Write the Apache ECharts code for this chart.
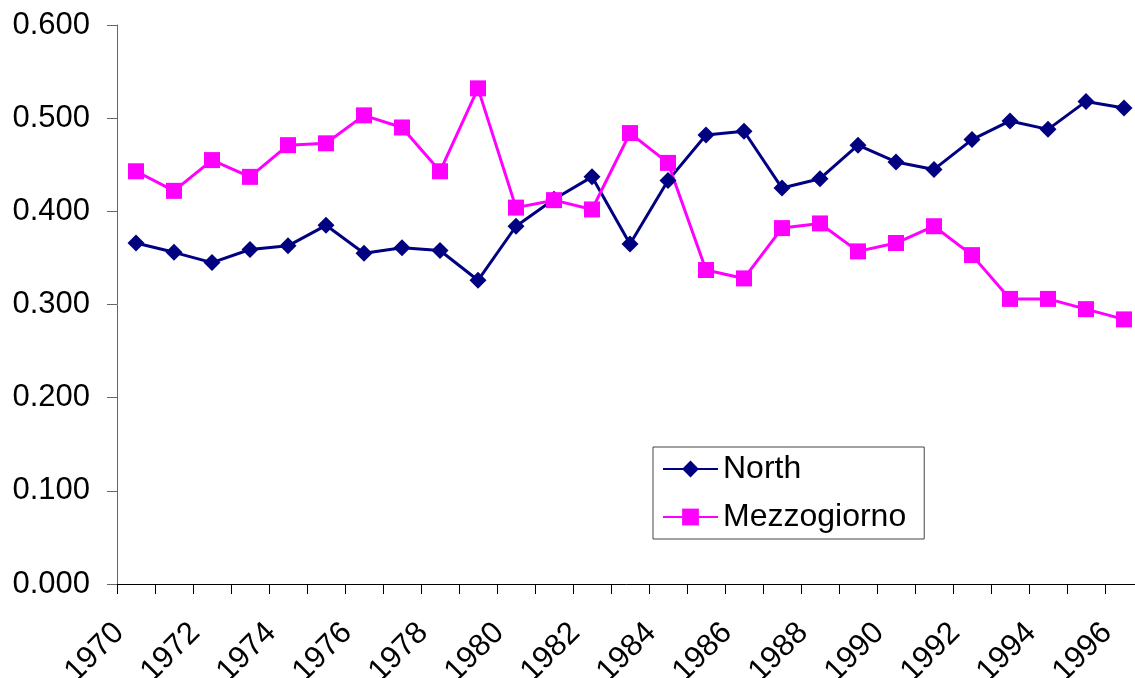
<!DOCTYPE html>
<html>
<head>
<meta charset="utf-8">
<script src="https://cdn.jsdelivr.net/npm/echarts@6/dist/echarts.min.js"></script>
<style>
html,body{margin:0;padding:0;background:#fff;}
#chart{width:1135px;height:678px;}
</style>
</head>
<body>
<div id="chart"></div>
<script>
// 年份
var years = ['1970','1971','1972','1973','1974','1975','1976','1977','1978','1979',
	'1980','1981','1982','1983','1984','1985','1986','1987','1988','1989',
	'1990','1991','1992','1993','1994','1995','1996'];

// North
var northVals = [0.366, 0.356, 0.345, 0.359, 0.363, 0.385, 0.355, 0.361, 0.358, 0.326,
	0.384, 0.413, 0.437, 0.365, 0.433, 0.482, 0.486, 0.425, 0.435, 0.471,
	0.453, 0.445, 0.477, 0.497, 0.488, 0.518, 0.511];

// Mezzogiorno
var mezzVals = [0.443, 0.422, 0.455, 0.437, 0.471, 0.473, 0.503, 0.490, 0.443, 0.532,
	0.404, 0.412, 0.402, 0.484, 0.452, 0.337, 0.328, 0.382, 0.387, 0.357,
	0.366, 0.384, 0.353, 0.306, 0.306, 0.295, 0.284];

var fontName = 'Liberation Sans, Arial, sans-serif';

var myChart = echarts.init(document.getElementById('chart'));

var option = {
	animation: false,
	backgroundColor: '#fff',
	grid: {
		left: 117,
		width: 1026,
		top: 25,
		bottom: 94,
		containLabel: false,
		outerBoundsMode: 'none'
	},
	legend: {
		orient: 'vertical',
		left: 653,
		top: 447,
		padding: [6, 18, 6, 9],
		itemWidth: 55,
		itemHeight: 21,
		itemGap: 16,
		borderColor: '#444',
		borderWidth: 1,
		backgroundColor: '#fff',
		textStyle: {
			fontFamily: fontName,
			fontSize: 32,
			color: '#000'
		},
		data: ['North', 'Mezzogiorno']
	},
	xAxis: {
		type: 'category',
		data: years,
		boundaryGap: true,
		axisLine: { lineStyle: { color: '#000', width: 1 } },
		axisTick: { show: true, length: 10, interval: 0, lineStyle: { color: '#000' } },
		axisLabel: {
			interval: 1,
			rotate: 45,
			margin: 27,
			padding: [0, 24, 0, 0],
			fontFamily: fontName,
			fontSize: 31,
			color: '#000'
		},
		splitLine: { show: false }
	},
	yAxis: {
		type: 'value',
		min: 0,
		max: 0.6,
		interval: 0.1,
		axisLine: { show: true, lineStyle: { color: '#666', width: 1 } },
		axisTick: { show: true, length: 10, lineStyle: { color: '#666' } },
		axisLabel: {
			margin: 27,
			fontFamily: fontName,
			fontSize: 31,
			color: '#000',
			formatter: function (v) { return v.toFixed(3); }
		},
		splitLine: { show: false }
	},
	series: [
		{
			name: 'North',
			type: 'line',
			data: northVals,
			symbol: 'diamond',
			symbolSize: 17,
			lineStyle: { color: '#000080', width: 3 },
			itemStyle: { color: '#000080' }
		},
		{
			name: 'Mezzogiorno',
			type: 'line',
			data: mezzVals,
			symbol: 'rect',
			symbolSize: 16,
			lineStyle: { color: '#ff00ff', width: 3 },
			itemStyle: { color: '#ff00ff' }
		}
	]
};

myChart.setOption(option);
</script>
</body>
</html>
